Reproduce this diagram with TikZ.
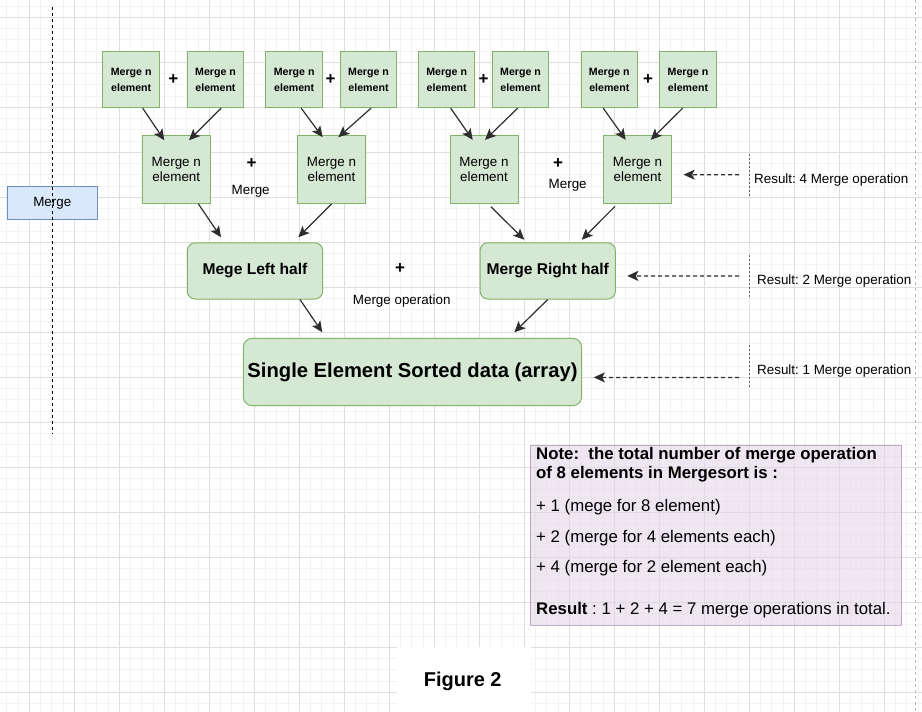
\documentclass[tikz,border=0pt]{standalone}
\usepackage{fontspec}
\setmainfont{Liberation Sans}
\usetikzlibrary{arrows.meta,calc}
\definecolor{gfill}{HTML}{D5E8D4}
\definecolor{gdraw}{HTML}{82B366}
\definecolor{bfill}{HTML}{DAE8FC}
\definecolor{bdraw}{HTML}{6C8EBF}
\definecolor{pfill}{HTML}{E1D5E7}
\definecolor{pdraw}{HTML}{9673A6}
\definecolor{gridminor}{HTML}{F3F3F3}
\definecolor{gridmajor}{HTML}{DEDEDE}
\frenchspacing
\tikzset{
  sbox/.style={draw=gdraw, fill=gfill, line width=1pt, minimum width=56.5pt, minimum height=56pt, inner sep=0pt, align=center, font=\fontsize{10.6}{16}\selectfont\bfseries},
  mbox/.style={draw=gdraw, fill=gfill, line width=1pt, minimum width=68pt, minimum height=67.5pt, inner sep=0pt, align=center, font=\fontsize{13.4}{15}\selectfont},
  hbox/.style={draw=gdraw, fill=gfill, line width=1pt, rounded corners=8pt, minimum width=135.4pt, minimum height=56.3pt, inner sep=0pt, align=center, font=\fontsize{15.6}{18}\selectfont\bfseries},
  plus/.style={font=\fontsize{17}{17}\selectfont\bfseries, inner sep=0pt},
  lbl/.style={font=\fontsize{13.4}{16}\selectfont, inner sep=0pt},
  notetxt/.style={font=\fontsize{16.8}{19}\selectfont, inner sep=0pt, anchor=west},
  arr/.style={draw=black!82, line width=1.2pt, -{Stealth[length=11pt,width=10pt,inset=2.5pt]}},
  darr/.style={arr, dash pattern=on 4pt off 3pt},
  sep/.style={draw=black!60, line width=1pt, dash pattern=on 2pt off 2pt},
}
\begin{document}
\begin{tikzpicture}[x=1pt,y=-1pt]
\useasboundingbox (0,0) rectangle (922,712);
\fill[white] (0,0) rectangle (922,712);
% grid
\foreach \i in {0,...,81} \draw[gridminor, line width=0.8pt] ({6.8+11.25*\i},0) -- ({6.8+11.25*\i},712);
\foreach \i in {0,...,63} \draw[gridminor, line width=0.8pt] (0,{6.05+11.25*\i}) -- (922,{6.05+11.25*\i});
\foreach \i in {0,...,20} \draw[gridmajor, line width=0.8pt] ({29.3+45*\i},0) -- ({29.3+45*\i},712);
\foreach \i in {0,...,15} \draw[gridmajor, line width=0.8pt] (0,{17.3+45*\i}) -- (922,{17.3+45*\i});
% page boundary
\draw[gray!55, line width=1pt, dash pattern=on 3pt off 3pt] (915.7,0) -- (915.7,712);

% left Merge box and dashed line
\node[draw=bdraw, fill=bfill, line width=1pt, minimum width=90pt, minimum height=32.6pt, inner sep=0pt, font=\fontsize{13.4}{16}\selectfont] (mergebox) at (52.3,203) {Merge};
\coordinate (vtop) at (52.3,6.7);
\coordinate (vbot) at (52.3,433.3);
\draw[black, line width=1pt, dash pattern=on 3pt off 3pt] (vtop) -- (vbot);

% row 1
\node[sbox] (b1) at (131.2,79.7) {Merge n\\element};
\node[sbox] (b2) at (215.5,79.7) {Merge n\\element};
\node[sbox] (b3) at (294.2,79.7) {Merge n\\element};
\node[sbox] (b4) at (368.5,79.7) {Merge n\\element};
\node[sbox] (b5) at (446.7,79.7) {Merge n\\element};
\node[sbox] (b6) at (520.5,79.7) {Merge n\\element};
\node[sbox] (b7) at (609.3,79.7) {Merge n\\element};
\node[sbox] (b8) at (688,79.7) {Merge n\\element};
\node[plus] (p1) at (173.3,79.3) {+};
\node[plus] (p2) at (330.7,79.3) {+};
\node[plus] (p3) at (483.7,79.3) {+};
\node[plus] (p4) at (648,79.3) {+};

% row 2
\node[mbox] (mA) at (176.3,169.5) {Merge n\\element};
\node[mbox] (mB) at (331.5,169.5) {Merge n\\element};
\node[mbox] (mC) at (484,169.6) {Merge n\\element};
\node[mbox] (mD) at (637.5,169.6) {Merge n\\element};
\node[plus] (p5) at (251.7,163.3) {+};
\node[plus] (p6) at (558,163.3) {+};
\node[lbl] (lm1) at (250.7,191) {Merge};
\node[lbl] (lm2) at (567.7,185) {Merge};

% row 3
\node[hbox] (left) at (255,270.9) {Mege Left half};
\node[hbox] (right) at (547.7,270.9) {Merge Right half};
\node[plus] (p7) at (400,268.3) {+};
\node[lbl] (lmo) at (401.7,301) {Merge operation};

% bottom
\node[draw=gdraw, fill=gfill, line width=1pt, rounded corners=9pt, minimum width=338.4pt, minimum height=67.4pt, inner sep=0pt, font=\fontsize{20.2}{24}\selectfont\bfseries] (bot) at (412.5,372) {Single Element Sorted data (array)};

% arrows row1 -> row2
\draw[arr] ($(b1.south)+(11.5,0)$) -- ($(mA.north)+(-12,5)$);
\draw[arr] ($(b2.south)+(5.5,0)$) -- ($(mA.north)+(12.7,5)$);
\draw[arr] ($(b3.south)+(7,0)$) -- ($(mB.north)+(-8.8,2)$);
\draw[arr] ($(b4.south)+(2.5,0)$) -- ($(mB.north)+(6.8,2)$);
\draw[arr] ($(b5.south)+(4,0)$) -- ($(mC.north)+(-11.3,4.5)$);
\draw[arr] ($(b6.south)+(-2.8,0)$) -- ($(mC.north)+(1,4.5)$);
\draw[arr] ($(b7.south)+(-6,0)$) -- ($(mD.north)+(-11.8,4.5)$);
\draw[arr] ($(b8.south)+(-5.3,0)$) -- ($(mD.north)+(13.2,4.5)$);
% row2 -> row3
\draw[arr] ($(mA.south)+(22,0)$) -- ($(left.north)+(-34,-5)$);
\draw[arr] ($(mB.south)+(0.2,0)$) -- ($(left.north)+(43.3,-5)$);
\draw[arr] ($(mC.south)+(7,3)$) -- ($(right.north)+(-23.4,-2.5)$);
\draw[arr] ($(mD.south)+(-22.5,2.5)$) -- ($(right.north)+(34,-2.5)$);
% row3 -> bottom
\draw[arr] ($(left.south)+(45,0)$) -- ($(bot.north)+(-90.2,-5.5)$);
\draw[arr] ($(right.south)+(0,0)$) -- ($(bot.north)+(101.8,-5.5)$);

% result labels
\node[lbl, anchor=west] (r4) at (754,180) {Result: 4 Merge operation};
\node[lbl, anchor=west] (r2) at (757,281) {Result: 2 Merge operation};
\node[lbl, anchor=west] (r1) at (757,370.7) {Result: 1 Merge operation};
\draw[sep] (749,154) -- (749,197.3);
\draw[sep] (749,255) -- (749,298);
\draw[sep] (749,345) -- (749,388);
\coordinate (s4) at (739,174.7);
\coordinate (s2) at (739,276);
\coordinate (s1) at (739,377.5);
\draw[darr] (s4) -- ($(mD.east)+(11.6,5.1)$);
\draw[darr] (s2) -- ($(right.east)+(11.4,5)$);
\draw[darr] (s1) -- ($(bot.east)+(11.6,5.4)$);

% note
\node[draw=pdraw, draw opacity=0.55, fill=pfill, fill opacity=0.55, line width=1pt, minimum width=371.7pt, minimum height=180pt, inner sep=0pt] (note) at (715.9,535) {};
\node[notetxt] (n1) at (536,455) {\bfseries Note:\ \ the total number of merge operation};
\node[notetxt] (n2) at (536,474.3) {\bfseries of 8 elements in Mergesort is :};
\node[notetxt] (n3) at (536,506.7) {+ 1 (mege for 8 element)};
\node[notetxt] (n4) at (536,537.7) {+ 2 (merge for 4 elements each)};
\node[notetxt] (n5) at (536,568.3) {+ 4 (merge for 2 element each)};
\node[notetxt] (n6) at (536,610) {\textbf{Result} : 1 + 2 + 4 = 7 merge operations in total.};

% figure caption
\fill[white] (397,647) rectangle (531,712);
\node[inner sep=0pt, font=\fontsize{20}{24}\selectfont\bfseries] (fig) at (462.7,681.7) {Figure 2};
\end{tikzpicture}
\end{document}
